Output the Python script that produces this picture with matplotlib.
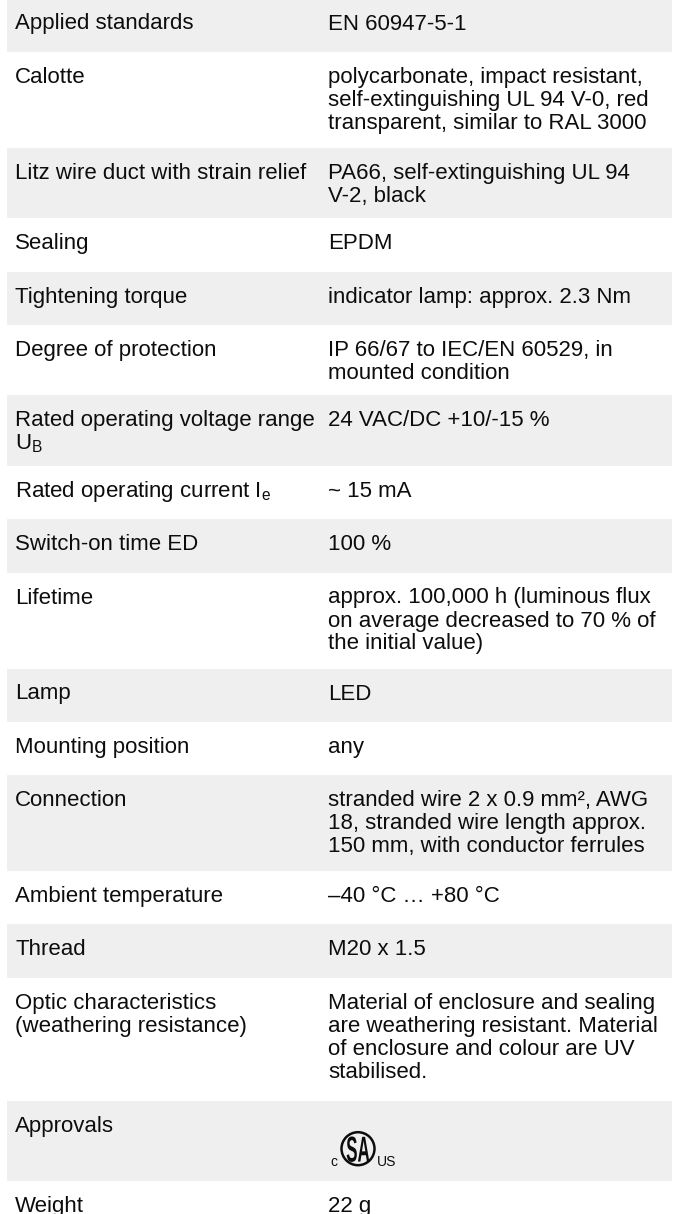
import matplotlib
matplotlib.use("Agg")
import matplotlib.pyplot as plt
from matplotlib.patches import Rectangle, Circle, PathPatch
from matplotlib.textpath import TextPath
from matplotlib.font_manager import FontProperties
from matplotlib.transforms import Affine2D

plt.rcParams['font.family'] = ['Liberation Sans', 'DejaVu Sans']
plt.rcParams['mathtext.fontset'] = 'custom'
plt.rcParams['mathtext.rm'] = 'Liberation Sans'
plt.rcParams['mathtext.it'] = 'Liberation Sans:italic'
plt.rcParams['mathtext.bf'] = 'Liberation Sans:bold'

# table content (line breaks as in the data sheet)
labels = [
    "Applied standards",
    "Calotte",
    "Litz wire duct with strain relief",
    "Sealing",
    "Tightening torque",
    "Degree of protection",
    "Rated operating voltage range\nU$_\\mathregular{B}$",
    "Rated operating current I$_\\mathregular{e}$",
    "Switch-on time ED",
    "Lifetime",
    "Lamp",
    "Mounting position",
    "Connection",
    "Ambient temperature",
    "Thread",
    "Optic characteristics\n(weathering resistance)",
    "Approvals",
    "Weight",
]
values = [
    "EN 60947-5-1",
    "polycarbonate, impact resistant,\nself-extinguishing UL 94 V-0, red\ntransparent, similar to RAL 3000",
    "PA66, self-extinguishing UL 94\nV-2, black",
    "EPDM",
    "indicator lamp: approx. 2.3 Nm",
    "IP 66/67 to IEC/EN 60529, in\nmounted condition",
    "24 VAC/DC +10/-15 %",
    "~ 15 mA",
    "100 %",
    "approx. 100,000 h (luminous flux\non average decreased to 70 % of\nthe initial value)",
    "LED",
    "any",
    "stranded wire 2 x 0.9 mm², AWG\n18, stranded wire length approx.\n150 mm, with conductor ferrules",
    "\u201340 °C \u2026 +80 °C",
    "M20 x 1.5",
    "Material of enclosure and sealing\nare weathering resistant. Material\nof enclosure and colour are UV\nstabilised.",
    None,  # CSA logo
    "22 g",
]

W, H = 680, 1214
fig = plt.figure(figsize=(W / 100, H / 100), dpi=100)
ax = fig.add_axes([0, 0, 1, 1])
ax.set_xlim(0, W)
ax.set_ylim(H, 0)
ax.axis('off')

row_h = {1: 53.3, 2: 70.5, 3: 96, 4: 123}
fs = 16
col1_x, col2_x = 15, 328
base_off, line_step = 31, 23
txt_col = '#0d0d0d'


def draw_logo(x0, base):
    # c (CSA) us mark
    ax.text(x0, base, "c", fontsize=10, color=txt_col, va='baseline')
    cx, cy, r = x0 + 28, base - 17, 16.5
    ax.add_patch(Circle((cx, cy), r, fill=False, lw=1.8, ec=txt_col))
    fp = FontProperties(family='Liberation Sans', weight='bold')
    tp = TextPath((0, 0), "SA", size=1, prop=fp)
    ext = tp.get_extents()
    sx, sy = 17, 36
    tr = Affine2D().scale(sx, -sy).translate(cx - ext.width * sx / 2 - ext.x0 * sx, cy + 0.716 * sy / 2)
    ax.add_patch(PathPatch(tr.transform_path(tp), fc=txt_col, ec='none'))
    ax.text(cx + r + 2, base, "US", fontsize=10, color=txt_col, va='baseline')


top = -1.5
for i, (lab, val) in enumerate(zip(labels, values)):
    if val is None:
        h = 80
    else:
        n = max(lab.count('\n'), val.count('\n')) + 1
        h = row_h[n]
    if i % 2 == 0:
        ax.add_patch(Rectangle((7, top), 665, h, fc='#efefef', ec='none', zorder=0))
    for j, line in enumerate(lab.split('\n')):
        ax.text(col1_x, top + base_off + line_step * j, line, fontsize=fs,
                color=txt_col, va='baseline')
    if val is None:
        draw_logo(col2_x + 2, top + 65)
    else:
        for j, line in enumerate(val.split('\n')):
            ax.text(col2_x, top + base_off + line_step * j, line, fontsize=fs,
                    color=txt_col, va='baseline')
    top += h

fig.savefig("out.png", dpi=100)
